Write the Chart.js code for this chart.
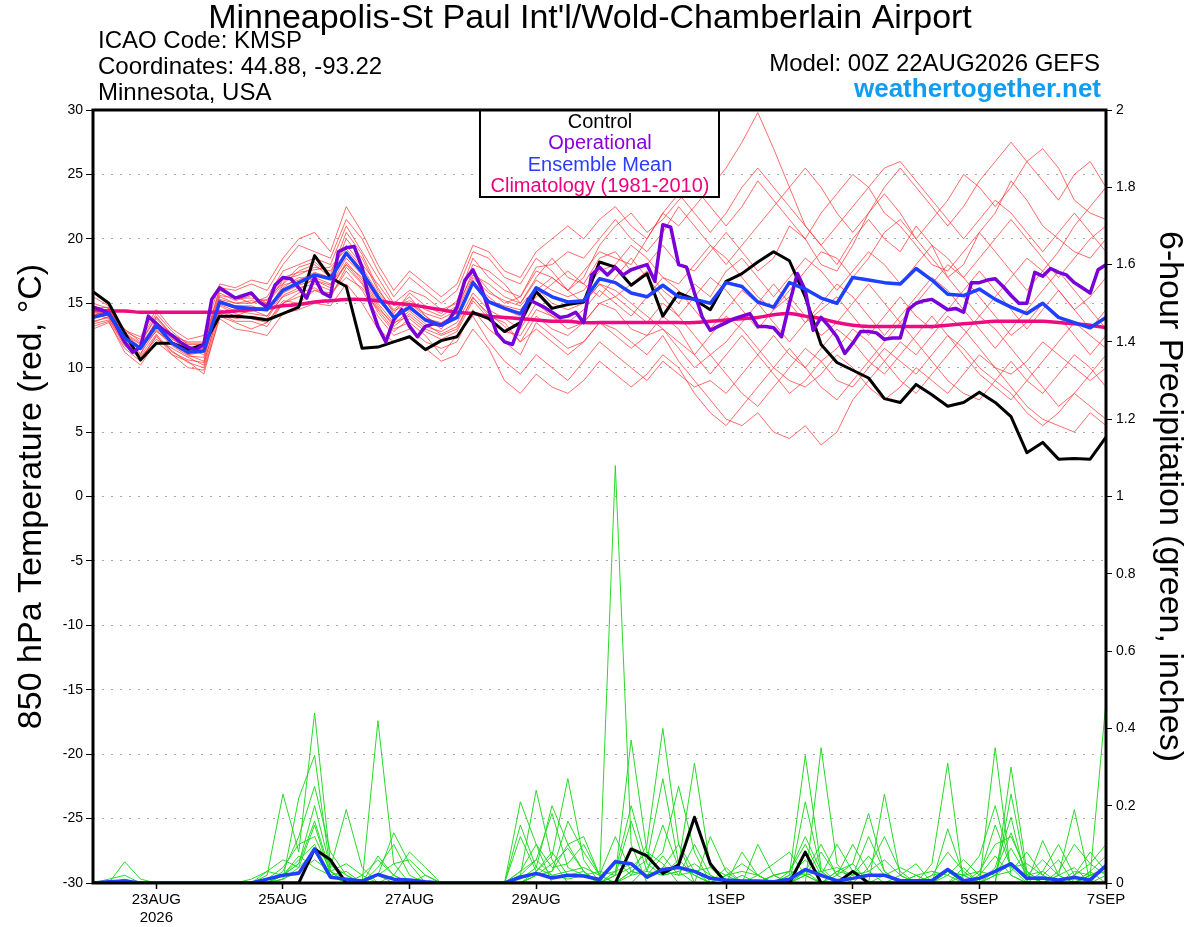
<!DOCTYPE html>
<html>
<head>
<meta charset="utf-8">
<title>KMSP GEFS meteogram</title>
<script src="https://cdn.jsdelivr.net/npm/chart.js@4.4.1/dist/chart.umd.min.js"></script>
<style>
  html, body { margin: 0; padding: 0; background: #fff; }
  #wrap { width: 1200px; height: 927px; position: relative; }
</style>
</head>
<body>
<div id="wrap"><canvas id="meteogram"></canvas></div>
<script>
const FONT = "'Liberation Sans', Arial, Helvetica, sans-serif";

// header text
const titleText = "Minneapolis-St Paul Int'l/Wold-Chamberlain Airport";
const infoLines = ["ICAO Code: KMSP", "Coordinates: 44.88, -93.22", "Minnesota, USA"];
const modelText = "Model: 00Z 22AUG2026 GEFS";
const siteText = "weathertogether.net";
const leftTitle = "850 hPa Temperature (red, °C)";
const rightTitle = "6-hour Precipitation (green, inches)";

// legend rows
const legendText = ["Control", "Operational", "Ensemble Mean", "Climatology (1981-2010)"];
const legendColors = ["#000000", "#8a00dd", "#2a3cff", "#ee0080"];

// x axis ticks (forecast hour -> label)
const tickHours = [24, 72, 120, 168, 240, 288, 336, 384];
const tickLabels = [["23AUG", "2026"], "25AUG", "27AUG", "29AUG", "1SEP", "3SEP", "5SEP", "7SEP"];

// forecast hours
const hours6 = [0,6,12,18,24,30,36,42,48,54,60,66,72,78,84,90,96,102,108,114,120,126,132,138,144,150,156,162,
  168,174,180,186,192,198,204,210,216,222,228,234,240,246,252,258,264,270,276,282,288,294,300,306,312,318,
  324,330,336,342,348,354,360,366,372,378,384];
const hours3 = [0,3,6,9,12,15,18,21,24,27,30,33,36,39,42,45,48,51,54,57,60,63,66,69,72,75,78,81,84,87,90,93,
  96,99,102,105,108,111,114,117,120,123,126,129,132,135,138,141,144,147,150,153,156,159,162,165,168,171,174,
  177,180,183,186,189,192,195,198,201,204,207,210,213,216,219,222,225,228,231,234,237,240,243,246,249,252,255,
  258,261,264,267,270,273,276,279,282,285,288,291,294,297,300,303,306,309,312,315,318,321,324,327,330,333,336,
  339,342,345,348,351,354,357,360,363,366,369,372,375,378,381,384];

// 850 hPa temperature (C)
const controlT = [15.9,15.0,12.7,10.6,11.9,11.9,11.4,11.8,14.0,14.0,
  13.9,13.7,14.2,14.7,18.7,17.0,16.3,11.5,11.6,12.0,
  12.4,11.4,12.1,12.4,14.3,13.8,12.8,13.5,15.9,14.6,
  14.9,15.1,18.2,17.8,16.4,17.3,14.0,15.8,15.3,14.5,
  16.7,17.3,18.2,19.0,18.3,15.5,11.8,10.4,9.8,9.2,
  7.6,7.3,8.7,7.9,7.0,7.3,8.1,7.3,6.2,3.4,
  4.2,2.9,2.95,2.9,4.6];
const operationalT = [14.7,14.5,14.2,13.2,12.0,11.2,11.6,14.0,13.4,12.9,
  12.5,12.0,11.6,11.4,11.8,15.3,16.2,15.8,15.4,15.6,
  15.8,15.1,14.7,16.4,17.0,16.9,16.2,15.4,17.0,15.8,
  15.5,19.0,19.3,19.4,17.8,15.0,13.2,12.0,13.7,14.5,
  13.2,12.4,13.2,13.4,13.3,13.7,14.7,16.8,17.6,16.3,
  14.5,12.7,12.0,11.8,13.4,15.3,15.0,14.7,14.3,13.9,
  14.0,14.3,13.5,17.2,17.8,17.2,17.8,17.2,17.6,17.8,
  18.0,16.7,21.1,20.9,18.0,17.8,15.8,13.9,12.9,13.2,
  13.5,13.8,14.0,14.2,13.2,13.2,13.1,12.4,15.0,17.3,
  16.0,12.9,13.9,13.2,12.4,11.1,11.9,12.8,12.8,12.7,
  12.2,12.3,12.3,14.5,15.0,15.2,15.3,14.9,14.5,14.6,
  14.3,16.6,16.6,16.8,16.9,16.3,15.6,15.0,15.0,17.4,
  17.1,17.7,17.4,17.2,16.6,16.2,15.8,17.6,18.0];
const meanT = [13.9,14.2,12.3,11.5,13.3,11.9,11.2,11.3,15.1,14.7,
  14.6,14.5,16.0,16.6,17.2,16.9,18.9,17.4,15.5,13.9,
  14.7,13.7,13.3,13.9,16.6,15.1,14.6,14.2,16.2,15.5,
  15.1,15.2,16.9,16.6,15.8,15.5,16.4,15.5,15.3,15.0,
  16.6,16.3,15.1,14.7,16.6,16.1,15.4,15.0,17.0,16.8,
  16.6,16.5,17.7,16.8,15.7,15.6,16.1,15.3,14.7,14.2,
  15.0,13.9,13.5,13.1,13.9];
const climoT = [14.5,14.4,14.4,14.3,14.3,14.3,14.3,14.3,14.3,14.4,
  14.5,14.6,14.8,14.9,15.1,15.2,15.3,15.3,15.2,15.0,
  14.9,14.7,14.5,14.3,14.2,14.0,13.9,13.8,13.7,13.6,
  13.6,13.5,13.5,13.5,13.5,13.5,13.5,13.5,13.5,13.6,
  13.7,13.8,13.9,14.1,14.2,14.0,13.8,13.5,13.3,13.2,
  13.2,13.2,13.2,13.2,13.3,13.4,13.5,13.6,13.6,13.6,
  13.6,13.5,13.4,13.3,13.1];

// ensemble members, temperature
const memberT01 = [13.5,14.0,12.0,11.0,13.8,12.5,11.0,10.5,15.5,15.0,15.2,15.0,16.5,17.5,18.0,17.0,20.0,18.5,16.0,
  14.5,15.5,14.0,13.0,14.5,17.5,16.0,15.0,15.5,17.5,17.0,16.0,17.5,19.0,18.5,18.0,20.0,22.0,21.0,22.5,24.0,25.5,
  27.5,29.8,27.0,24.0,21.0,19.5,18.0,20.0,21.5,20.0,19.0,21.0,19.5,17.0,18.0,20.5,22.0,24.5,23.0,21.0,20.0,19.0,18.5,20.0];
const memberT02 = [13.0,13.5,11.5,10.5,12.5,11.0,10.5,9.5,14.0,13.5,13.0,13.5,15.0,15.5,16.0,15.5,17.5,16.0,14.0,
  12.5,13.0,12.0,11.5,12.0,14.5,13.0,12.0,11.0,13.5,12.5,11.5,12.0,13.5,13.0,12.0,11.0,12.5,10.5,9.0,7.5,6.0,
  5.5,6.5,5.0,4.5,5.5,4.0,5.0,7.5,9.0,10.5,12.0,11.0,12.5,14.0,13.0,11.5,10.0,9.5,10.5,12.0,11.0,10.0,9.0,10.0];
const memberT03 = [14.5,14.5,13.0,12.0,14.0,12.5,12.0,12.0,16.0,15.5,15.0,15.5,17.5,18.0,18.5,18.0,21.0,19.0,17.0,
  15.0,16.0,15.5,14.5,15.0,18.0,17.5,16.5,15.0,17.0,18.5,17.0,16.5,18.5,19.0,17.5,18.0,19.5,18.0,17.5,19.0,20.5,
  19.0,17.5,18.5,21.0,20.0,18.0,17.5,19.5,22.0,23.5,22.0,20.0,21.5,23.0,25.0,24.0,22.5,24.0,26.0,27.0,25.5,23.0,22.0,21.5];
const memberT04 = [15.5,14.8,12.5,11.5,12.8,12.0,11.5,11.0,14.5,14.0,14.5,14.0,15.5,16.0,17.0,16.5,18.0,17.0,15.0,
  13.5,14.0,13.0,12.5,13.0,15.5,14.0,13.5,12.0,14.0,13.0,12.5,13.5,15.0,14.5,13.0,12.5,14.0,13.0,11.0,9.5,11.0,
  12.5,11.0,9.5,8.0,9.0,10.5,11.5,13.0,12.0,10.5,9.0,8.0,9.5,11.0,12.5,14.0,13.0,11.5,10.0,8.5,7.0,8.0,9.5,11.0];
const memberT05 = [13.8,14.3,12.8,12.2,14.2,12.8,11.8,11.8,16.2,16.0,16.5,16.0,18.0,19.5,19.0,18.5,21.5,20.0,17.5,
  15.5,17.0,16.0,15.0,16.0,19.0,18.5,17.0,16.5,18.5,17.5,16.0,17.0,19.5,21.0,22.0,20.5,21.5,23.0,24.0,22.5,21.0,
  22.5,24.5,23.0,21.5,20.0,22.0,23.5,25.0,24.0,22.0,21.0,19.5,18.0,17.5,19.0,20.5,19.0,17.5,16.0,17.5,19.0,21.0,22.5,24.0];
const memberT06 = [14.2,13.8,11.8,10.8,12.2,11.5,10.8,10.2,14.8,14.2,13.8,13.5,15.2,15.0,16.0,15.8,17.0,16.2,14.5,
  13.0,13.5,12.5,11.0,12.5,14.0,12.0,10.5,9.5,11.0,10.0,9.0,10.5,12.0,11.0,10.0,9.0,10.5,9.5,8.5,9.0,8.0,
  9.5,11.0,12.5,11.0,10.0,11.5,13.0,12.0,10.5,9.5,11.0,12.5,14.0,12.5,11.0,9.5,8.5,7.5,9.0,10.5,12.0,13.5,12.5,11.5];
const memberT07 = [14.0,14.6,12.6,11.8,13.5,12.2,11.5,11.6,15.8,15.2,15.6,15.0,16.8,17.2,17.8,17.5,19.5,18.0,16.5,
  14.8,15.2,14.5,14.0,14.8,17.2,16.5,15.5,15.0,16.8,16.0,15.5,16.0,17.5,18.0,19.5,18.5,17.0,16.5,18.0,19.5,18.5,
  17.0,15.5,14.5,16.0,17.5,19.0,18.5,17.0,18.5,20.5,21.5,20.0,18.5,17.0,15.5,14.0,15.5,17.0,18.5,17.5,16.0,14.5,15.5,17.0];
const memberT08 = [13.2,13.6,11.2,10.2,12.0,11.0,10.0,9.8,13.8,13.0,12.8,12.5,14.2,14.5,15.0,14.8,16.5,15.0,13.0,
  12.0,12.5,11.5,10.5,11.0,13.0,11.5,9.0,8.0,9.5,8.5,8.0,9.0,10.5,9.5,8.5,9.5,11.0,10.0,8.0,6.5,5.5,
  7.0,8.5,10.0,11.5,10.0,8.5,7.5,9.0,10.5,12.0,13.5,12.0,10.5,9.0,8.0,7.5,9.0,8.0,6.5,5.5,6.5,8.0,7.0,6.0];
const memberT09 = [14.8,14.4,12.4,11.4,13.0,11.8,11.0,11.2,15.0,14.6,14.4,14.6,16.2,17.0,16.8,16.4,18.5,17.2,15.2,
  14.0,14.5,13.8,13.5,14.2,16.5,15.5,14.5,14.0,15.5,16.5,17.5,16.5,15.5,17.0,18.5,17.0,15.5,14.0,15.5,17.0,16.0,
  14.5,13.0,14.5,15.5,14.0,12.5,13.5,15.0,16.5,15.0,13.5,15.0,16.5,18.0,17.0,15.5,14.0,12.5,13.5,15.0,14.0,12.5,11.0,12.5];
const memberT10 = [14.3,14.1,12.2,11.6,13.6,12.3,11.3,11.5,15.3,15.0,15.0,15.3,16.6,17.8,18.2,17.2,20.5,18.8,16.2,
  14.2,15.8,14.8,14.2,15.2,18.5,17.0,16.0,15.5,17.8,18.0,19.0,18.5,20.0,21.5,20.0,19.0,20.5,22.5,21.0,19.5,18.0,
  19.5,21.0,22.5,24.0,25.5,24.0,22.0,20.5,22.0,24.0,25.5,24.0,22.5,21.0,22.5,24.5,26.0,27.5,26.0,24.5,23.0,25.0,26.0,24.0];
const memberT11 = [13.6,13.9,11.9,10.9,12.6,11.2,10.6,10.4,14.4,13.8,14.0,13.8,15.6,16.2,16.5,16.0,18.2,16.8,14.8,
  13.2,14.2,13.2,12.8,13.5,15.8,14.5,13.8,13.0,15.0,14.0,13.5,14.5,16.0,15.0,14.0,15.5,17.0,16.0,14.5,13.0,14.5,
  16.0,15.0,13.5,12.0,13.5,15.0,16.5,15.5,14.0,12.5,14.0,15.5,17.0,16.0,14.5,13.0,11.5,13.0,14.5,16.0,17.5,16.0,14.5,13.0];
const memberT12 = [14.6,14.7,12.7,11.9,13.9,12.6,11.9,11.9,15.6,15.4,15.4,15.2,17.0,17.4,17.6,17.8,19.2,17.8,15.8,
  14.4,15.0,14.2,13.8,14.4,17.0,15.8,15.2,14.8,16.2,15.0,14.5,15.0,16.5,16.0,15.0,14.0,13.0,12.0,11.0,12.5,14.0,
  13.0,11.5,10.0,9.0,8.5,9.5,11.0,10.0,8.5,7.5,8.5,10.0,9.0,8.0,9.5,11.0,10.0,8.5,7.0,6.0,5.5,5.0,6.5,5.5];
const memberT13 = [15.0,14.6,12.6,11.6,13.4,12.0,11.4,11.4,15.2,14.8,14.8,14.4,16.4,16.8,17.4,17.0,19.0,17.6,15.6,
  13.8,15.0,14.0,13.2,13.8,16.8,15.2,14.8,14.5,16.0,17.0,16.0,15.0,16.5,15.5,16.5,17.5,16.0,15.0,16.5,15.5,17.5,
  18.5,17.0,15.5,17.0,18.5,17.5,16.0,17.5,19.0,18.0,16.5,18.0,19.5,18.5,17.0,18.5,20.0,21.5,20.0,18.5,17.0,18.5,20.0,21.0];
const memberT14 = [13.4,13.7,11.7,10.7,12.4,11.3,10.4,10.0,14.2,13.6,13.6,13.2,15.0,15.8,16.2,15.5,17.8,16.5,14.3,
  12.8,13.8,12.8,12.2,12.8,15.2,13.8,12.8,12.5,14.5,14.0,13.0,13.5,15.0,15.5,14.5,13.5,15.0,14.0,12.5,11.0,12.0,
  13.5,15.0,16.5,15.0,13.5,14.5,15.5,14.0,12.5,14.0,15.5,14.0,13.0,14.5,16.0,17.5,16.0,14.5,13.0,14.5,16.0,14.5,13.0,14.5];
const memberT15 = [14.1,14.4,12.9,12.4,14.5,13.0,12.2,12.5,16.5,16.2,16.8,16.5,18.5,20.0,20.5,19.0,22.5,20.5,18.0,
  16.0,17.5,16.5,15.5,16.5,19.5,19.0,17.5,17.0,19.0,20.0,21.0,20.0,21.5,22.5,21.0,20.0,22.0,23.5,22.0,20.5,22.0,
  24.0,25.5,24.0,22.5,21.0,19.5,21.0,22.5,24.0,25.5,26.0,24.5,23.0,21.5,20.0,21.5,23.0,22.0,20.5,19.0,20.5,22.0,20.5,19.0];
const memberT16 = [14.4,14.0,12.1,11.1,12.9,11.7,10.9,10.8,14.9,14.4,14.2,14.0,15.8,16.4,16.8,16.2,18.0,16.6,14.6,
  13.4,14.4,13.4,12.6,13.2,15.4,14.2,13.2,12.0,13.0,12.0,11.0,12.0,13.5,12.5,11.5,12.5,13.0,11.5,10.0,11.0,9.5,
  8.0,7.0,8.5,10.0,11.5,10.5,9.0,8.5,10.0,11.5,10.5,9.5,11.0,12.5,11.5,10.0,9.0,10.5,9.0,8.0,9.5,11.0,10.0,8.5];

// 6-hour precipitation (inches)
const controlP = [0,0,0,0,0,0,0,0,0,0,
  0,0,0,0,0.088,0.06,0,0,0,0,
  0,0,0,0,0,0,0,0,0,0,
  0,0,0,0,0.088,0.07,0.025,0.047,0.17,0.05,
  0,0,0,0,0,0.08,0,0,0.03,0,
  0,0,0,0,0,0,0,0,0,0,
  0,0,0,0,0];
const meanP = [0,0.003,0.005,0,0,0,0,0,0,0,
  0,0.01,0.02,0.025,0.088,0.015,0.01,0.005,0.022,0.01,
  0.008,0.003,0,0,0,0,0,0.015,0.025,0.013,
  0.02,0.018,0.009,0.055,0.05,0.015,0.035,0.04,0.03,0.012,
  0.008,0.005,0.005,0.003,0.01,0.035,0.02,0.006,0.012,0.02,
  0.02,0.006,0.006,0.006,0.035,0.006,0.012,0.03,0.05,0.012,
  0.013,0.008,0.014,0.008,0.045];
const memberP01 = [0,0,0.055,0.01,0,0,0,0,0,0,
  0,0.02,0.23,0.08,0.44,0.05,0,0,0,0,
  0,0,0,0,0,0,0,0.21,0.1,0,
  0,0,0,1.08,0.1,0,0,0,0,0,
  0,0,0,0,0,0,0.35,0.05,0,0,
  0,0,0,0,0,0,0,0.35,0.02,0,
  0,0,0,0.02,0.47];
const memberP02 = [0,0.01,0.02,0,0,0,0,0,0,0,
  0,0,0.01,0.22,0.33,0.03,0,0,0.42,0.05,
  0,0,0,0,0,0,0,0.02,0.24,0.06,
  0,0,0,0.02,0.37,0.08,0.05,0,0,0,
  0,0,0,0,0.02,0.33,0.04,0,0,0,
  0.23,0.02,0,0,0,0,0,0,0.30,0.03,
  0,0.02,0.19,0,0];
const memberP03 = [0,0,0,0,0,0,0,0,0,0,
  0,0,0.02,0.05,0.2,0.04,0.19,0.04,0,0,
  0,0,0,0,0,0,0,0,0.03,0.07,
  0.27,0.06,0,0,0.02,0.1,0.40,0.1,0,0,
  0,0,0,0.02,0,0.21,0.03,0,0,0,
  0,0,0,0.05,0.31,0,0,0,0.23,0.02,
  0,0,0,0.02,0.03];
const memberP04 = [0,0,0,0,0,0,0,0,0,0,
  0,0.03,0.06,0.04,0.15,0.02,0,0,0.02,0.13,
  0.05,0,0,0,0,0,0,0.15,0.04,0.2,
  0.1,0.03,0,0,0,0.04,0.08,0.25,0.08,0,
  0,0,0,0,0,0.02,0,0.03,0.05,0.18,
  0.03,0,0,0,0.14,0.02,0,0.04,0.17,0,
  0,0,0.02,0.05,0.1];
const memberP05 = [0,0,0,0,0,0,0,0,0,0,
  0,0.01,0.04,0.1,0.12,0.03,0,0,0,0.02,
  0.08,0.04,0,0,0,0,0,0.03,0.1,0.04,
  0.05,0.1,0.02,0,0.03,0.06,0.27,0.05,0.31,0.04,
  0,0.08,0.02,0,0,0.03,0,0.02,0.1,0.03,
  0,0,0,0,0.03,0,0.02,0.15,0.04,0,
  0.11,0.02,0,0.03,0];
const memberP06 = [0,0,0,0,0,0,0,0,0,0,
  0.01,0.03,0.02,0.06,0.1,0.02,0.03,0,0.04,0.1,
  0.02,0,0,0,0,0,0,0,0.02,0.03,
  0.1,0.12,0.02,0.03,0.2,0.05,0.02,0.03,0,0.12,
  0.03,0,0.1,0.02,0,0.03,0.1,0.02,0,0.04,
  0.12,0.03,0,0,0,0.04,0,0.02,0.03,0.08,
  0.02,0.06,0,0.02,0.03];
const memberP07 = [0,0,0,0,0,0,0,0,0,0,
  0,0,0.01,0.04,0.08,0.02,0,0.02,0.06,0.02,
  0,0,0,0,0,0,0,0,0.02,0.05,
  0.09,0.03,0,0.06,0.02,0.03,0.15,0.04,0.02,0,
  0.04,0,0,0,0.02,0.06,0.02,0.1,0.03,0,
  0,0.02,0.05,0,0,0.02,0.03,0.1,0.12,0.03,
  0,0.02,0.04,0,0.02];
const memberP08 = [0,0,0,0,0,0,0,0,0,0,
  0,0,0.02,0.03,0.06,0.03,0.01,0,0,0,
  0,0.02,0,0,0,0,0,0.01,0.04,0.02,
  0.01,0.02,0.03,0.02,0.04,0.08,0.02,0.06,0.02,0,
  0.02,0.03,0.02,0.05,0.08,0.02,0,0.03,0.02,0.07,
  0.02,0,0.02,0.03,0.02,0,0.03,0.02,0.09,0.02,
  0.06,0.02,0,0.03,0.07];
const memberP09 = [0,0,0,0,0,0,0,0,0,0,
  0,0,0.01,0.03,0.09,0.05,0.02,0,0.02,0.05,
  0.06,0.02,0,0,0,0,0,0.12,0.03,0.08,
  0.02,0.03,0,0.03,0.05,0.02,0.03,0.02,0.1,0.02,
  0,0,0.02,0,0.03,0.02,0.08,0.02,0.05,0,
  0.02,0,0,0.02,0.03,0.02,0.07,0.2,0.04,0.05,
  0.02,0,0.03,0.02,0.04];
const memberP10 = [0,0,0,0,0,0,0,0,0,0,
  0,0,0.02,0.07,0.04,0.02,0,0,0.07,0.02,
  0,0,0,0,0,0,0,0.02,0.06,0.02,
  0.03,0.04,0.02,0.12,0.03,0.02,0.07,0.02,0.03,0.04,
  0.02,0,0,0.02,0.03,0.12,0.03,0,0.02,0.03,
  0.06,0.02,0,0.02,0.08,0.03,0,0.02,0.05,0.02,
  0,0.03,0.1,0.05,0.02];
const memberP11 = [0,0,0.01,0,0,0,0,0,0,0,
  0,0,0.02,0.05,0.16,0.03,0.05,0.02,0,0,
  0,0,0,0,0,0,0,0,0.02,0.03,
  0.16,0.08,0.02,0,0.03,0.02,0.04,0.1,0.03,0,
  0.02,0.05,0.02,0,0,0.02,0.03,0.04,0.02,0.12,
  0.03,0,0.02,0,0.02,0.06,0.02,0.07,0.02,0,
  0.03,0.1,0.02,0,0.05];
const memberP12 = [0,0,0,0,0,0,0,0,0,0,
  0,0,0.03,0.12,0.25,0.08,0.02,0,0.02,0,
  0,0,0,0,0,0,0,0.03,0.06,0.18,
  0.04,0.02,0,0.02,0.16,0.03,0.02,0.03,0.05,0.02,
  0,0.02,0,0.02,0.03,0.1,0.02,0,0.03,0.02,
  0.02,0.04,0.02,0,0.03,0.02,0,0.03,0.13,0.02,
  0.03,0,0.02,0.08,0.03];

const membersT = [memberT01, memberT02, memberT03, memberT04, memberT05, memberT06, memberT07, memberT08,
  memberT09, memberT10, memberT11, memberT12, memberT13, memberT14, memberT15, memberT16];
const membersP = [memberP01, memberP02, memberP03, memberP04, memberP05, memberP06,
  memberP07, memberP08, memberP09, memberP10, memberP11, memberP12];

function toPoints(xs, ys) {
  return ys.map((v, i) => ({ x: xs[i], y: v }));
}

function thickLine(label, xs, ys, color, width, axis) {
  return {
    label: label,
    data: toPoints(xs, ys),
    yAxisID: axis,
    borderColor: color,
    borderWidth: width,
    borderJoinStyle: "round",
    pointRadius: 0,
    fill: false
  };
}

// first dataset is drawn on top
const datasets = [
  thickLine("Ensemble Mean", hours6, meanT, "#2040ff", 3.5, "y"),
  thickLine("Ensemble Mean precip", hours6, meanP, "#2040ff", 3.5, "y2"),
  thickLine("Operational", hours3, operationalT, "#7a00d8", 3.5, "y"),
  thickLine("Control", hours6, controlT, "#000000", 3, "y"),
  thickLine("Control precip", hours6, controlP, "#000000", 3, "y2"),
  Object.assign(thickLine("Climatology", hours6, climoT, "#ee0a80", 3.5, "y"), { tension: 0.4 })
];

membersP.forEach((m, k) => {
  datasets.push({
    label: "Member precip " + (k + 1),
    data: toPoints(hours6, m),
    yAxisID: "y2",
    borderColor: "rgba(30, 215, 30, 0.95)",
    borderWidth: 1,
    pointRadius: 0
  });
});

membersT.forEach((m, k) => {
  datasets.push({
    label: "Member " + (k + 1),
    data: toPoints(hours6, m),
    yAxisID: "y",
    borderColor: "rgba(255, 45, 45, 0.7)",
    borderWidth: 1,
    pointRadius: 0
  });
});

// frame, legend box and header text
const decorations = {
  id: "decorations",
  afterDatasetsDraw(chart) {
    const { ctx, chartArea: a } = chart;
    ctx.save();

    // legend box
    ctx.fillStyle = "#fff";
    ctx.fillRect(480, a.top, 239, 87);
    ctx.strokeStyle = "#000";
    ctx.lineWidth = 2;
    ctx.strokeRect(480, a.top, 239, 87);
    ctx.font = "20px " + FONT;
    ctx.textAlign = "center";
    ctx.textBaseline = "middle";
    legendText.forEach((t, k) => {
      ctx.fillStyle = legendColors[k];
      ctx.fillText(t, 600, a.top + 12 + k * 21.5);
    });

    // plot frame
    ctx.lineWidth = 3;
    ctx.strokeStyle = "#000";
    ctx.strokeRect(a.left, a.top, a.right - a.left, a.bottom - a.top);

    // header
    ctx.fillStyle = "#000";
    ctx.font = "34px " + FONT;
    ctx.textAlign = "center";
    ctx.fillText(titleText, 590, 19);

    ctx.font = "24px " + FONT;
    ctx.textAlign = "left";
    infoLines.forEach((t, k) => ctx.fillText(t, 98, 41 + k * 26));

    ctx.textAlign = "right";
    ctx.fillText(modelText, 1100, 64);
    ctx.font = "bold 26px " + FONT;
    ctx.fillStyle = "#0f9df2";
    ctx.fillText(siteText, 1101, 90);

    ctx.restore();
  }
};

const tickFont = { family: FONT, size: 14 };

new Chart(document.getElementById("meteogram"), {
  type: "line",
  data: { datasets: datasets },
  plugins: [decorations],
  options: {
    responsive: true,
    maintainAspectRatio: false,
    animation: false,
    devicePixelRatio: 1,
    layout: { padding: { top: 110, left: 0, right: 0, bottom: 0 } },
    plugins: {
      legend: { display: false },
      tooltip: { enabled: false }
    },
    scales: {
      x: {
        type: "linear",
        min: 0,
        max: 384,
        afterBuildTicks: (axis) => {
          axis.ticks = tickHours.map((v) => ({ value: v }));
        },
        afterFit: (axis) => {
          axis.height = 44;
        },
        ticks: {
          autoSkip: false,
          maxRotation: 0,
          padding: 2,
          color: "#000",
          font: { family: FONT, size: 15 },
          callback: (value) => tickLabels[tickHours.indexOf(value)]
        },
        grid: { drawOnChartArea: false, tickLength: 6, tickColor: "#000", tickWidth: 1.5 },
        border: { display: false }
      },
      y: {
        position: "left",
        min: -30,
        max: 30,
        afterFit: (axis) => {
          axis.width = 93;
        },
        ticks: {
          stepSize: 5,
          padding: 3,
          color: "#000",
          font: tickFont,
          callback: (v) => String(v)
        },
        grid: {
          color: "#a8a8a8",
          lineWidth: 1,
          tickColor: "#000",
          tickLength: 7,
          tickWidth: 1,
          tickBorderDash: []
        },
        border: { display: false, dash: [2, 7] },
        title: {
          display: true,
          text: leftTitle,
          color: "#000",
          font: { family: FONT, size: 34 },
          padding: { top: 11, bottom: 0 }
        }
      },
      y2: {
        position: "right",
        min: 0,
        max: 2,
        afterFit: (axis) => {
          axis.width = 94;
        },
        ticks: {
          stepSize: 0.2,
          padding: 4,
          color: "#000",
          font: tickFont,
          callback: (v) => String(Math.round(v * 10) / 10)
        },
        grid: { drawOnChartArea: false, tickColor: "#000", tickLength: 6, tickWidth: 1 },
        border: { display: false },
        title: {
          display: true,
          text: rightTitle,
          color: "#000",
          font: { family: FONT, size: 34 },
          padding: { top: 10, bottom: 0 }
        }
      }
    }
  }
});
</script>
</body>
</html>
